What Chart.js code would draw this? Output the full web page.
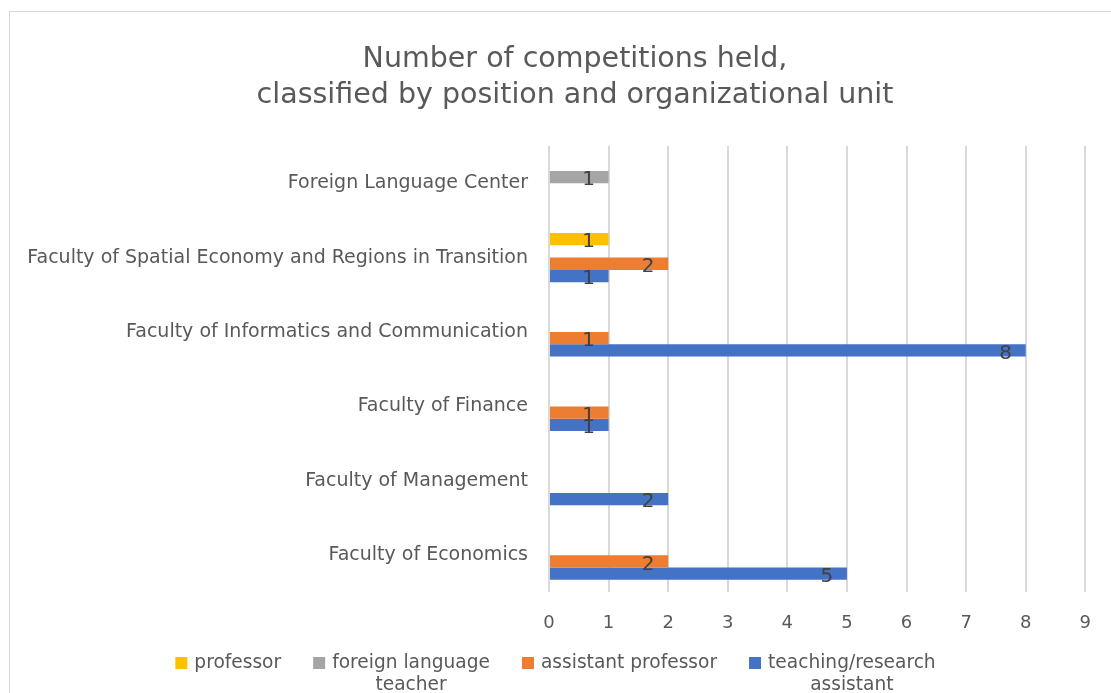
<!DOCTYPE html>
<html>
<head>
<meta charset="utf-8">
<script src="https://cdn.jsdelivr.net/npm/chart.js@4.4.1/dist/chart.umd.min.js"></script>
<style>
  html, body { margin: 0; padding: 0; background: #fff; overflow: hidden; }
  #wrap { position: relative; width: 1111px; height: 693px; }
  #frame { position: absolute; left: 9px; top: 11px; width: 1200px; height: 800px;
           border-left: 1.5px solid #d9d9d9; border-top: 1.5px solid #d9d9d9; pointer-events: none; }
</style>
</head>
<body>
<div id="wrap">
  <canvas id="graphCanvas" width="1111" height="693"></canvas>
  <div id="frame"></div>
</div>
<script>
// categories, top to bottom
var units = [
    'Foreign Language Center',
    'Faculty of Spatial Economy and Regions in Transition',
    'Faculty of Informatics and Communication',
    'Faculty of Finance',
    'Faculty of Management',
    'Faculty of Economics'
];
var professor       = [null, 1, null, null, null, null];
var languageTeacher = [1, null, null, null, null, null];
var assistantProf   = [null, 2, 1, 1, null, 2];
var teachingAssist  = [null, 1, 8, 1, 2, 5];
var xTicks = [0, 1, 2, 3, 4, 5, 6, 7, 8, 9];
var titleLines = ['Number of competitions held,', 'classified by position and organizational unit'];

var FONT = 'DejaVu Sans';
var TEXT = '#595959';

// title drawn by hand so it can sit a bit right of the canvas centre like the original
var chartTitle = {
    id: 'chartTitle',
    afterDraw: function(chart) {
        var ctx = chart.ctx;
        ctx.save();
        ctx.font = '28.5px "' + FONT + '"';
        ctx.fillStyle = TEXT;
        ctx.textAlign = 'center';
        ctx.textBaseline = 'middle';
        titleLines.forEach(function(l, k) {
            ctx.fillText(l, 575, 60 + k * 36);
        });
        ctx.restore();
    }
};

// numbers near the end of each bar
var barValues = {
    id: 'barValues',
    afterDatasetsDraw: function(chart) {
        var ctx = chart.ctx;
        ctx.save();
        ctx.font = '20px "' + FONT + '"';
        ctx.fillStyle = '#404040';
        ctx.textAlign = 'center';
        ctx.textBaseline = 'middle';
        chart.data.datasets.forEach(function(ds, i) {
            var meta = chart.getDatasetMeta(i);
            meta.data.forEach(function(bar, j) {
                var v = ds.data[j];
                if (v === null || v === undefined) return;
                ctx.fillText(String(v), bar.x - 20, bar.y + 3);
            });
        });
        ctx.restore();
    }
};

// excel style legend, second line centred under the first
var bottomLegend = {
    id: 'bottomLegend',
    afterDraw: function(chart) {
        var ctx = chart.ctx;
        var box = 12, gap = 7, spacing = 32, lineH = 22, y = 663;
        ctx.save();
        ctx.font = '18.6px "' + FONT + '"';
        ctx.textBaseline = 'middle';
        var items = chart.data.datasets.map(function(ds) {
            var lines = Array.isArray(ds.label) ? ds.label : [ds.label];
            var w = Math.max.apply(null, lines.map(function(l) { return ctx.measureText(l).width; }));
            return { lines: lines, w: w, color: ds.backgroundColor };
        });
        var total = items.reduce(function(s, it) { return s + box + gap + it.w; }, 0) + spacing * (items.length - 1);
        var x = chart.width / 2 - total / 2;
        items.forEach(function(it) {
            ctx.fillStyle = it.color;
            ctx.fillRect(x, y - box / 2, box, box);
            ctx.fillStyle = TEXT;
            var tx = x + box + gap;
            it.lines.forEach(function(l, k) {
                if (k === 0) {
                    ctx.textAlign = 'left';
                    ctx.fillText(l, tx, y);
                } else {
                    ctx.textAlign = 'center';
                    ctx.fillText(l, tx + it.w / 2, y + k * lineH);
                }
            });
            x = tx + it.w + spacing;
        });
        ctx.restore();
    }
};

var mychart = new Chart(document.getElementById('graphCanvas'), {
    type: 'bar',
    data: {
        labels: units,
        datasets: [
            { label: 'professor', data: professor, backgroundColor: '#ffc000' },
            { label: ['foreign language', 'teacher'], data: languageTeacher, backgroundColor: '#a5a5a5' },
            { label: 'assistant professor', data: assistantProf, backgroundColor: '#ed7d31' },
            { label: ['teaching/research', 'assistant'], data: teachingAssist, backgroundColor: '#4472c4' }
        ]
    },
    options: {
        indexAxis: 'y',
        responsive: false,
        animation: false,
        maintainAspectRatio: false,
        barPercentage: 1.0,
        categoryPercentage: 0.66,
        layout: { padding: { top: 146, right: 6, left: 14, bottom: 39 } },
        plugins: {
            title: { display: false },
            legend: { display: false },
            tooltip: { enabled: false }
        },
        scales: {
            x: {
                min: 0,
                max: 9,
                afterBuildTicks: function(scale) {
                    scale.ticks = xTicks.map(function(v) { return { value: v }; });
                },
                grid: { color: '#d9d9d9', lineWidth: 2, drawTicks: false },
                border: { display: false },
                ticks: { color: TEXT, font: { family: FONT, size: 18 }, padding: 20 }
            },
            y: {
                grid: { display: false },
                border: { display: false },
                ticks: { color: TEXT, font: { family: FONT, size: 19 }, padding: 13 },
                afterFit: function(scale) { scale.width = 535; }
            }
        }
    },
    plugins: [barValues, bottomLegend, chartTitle]
});
</script>
</body>
</html>
